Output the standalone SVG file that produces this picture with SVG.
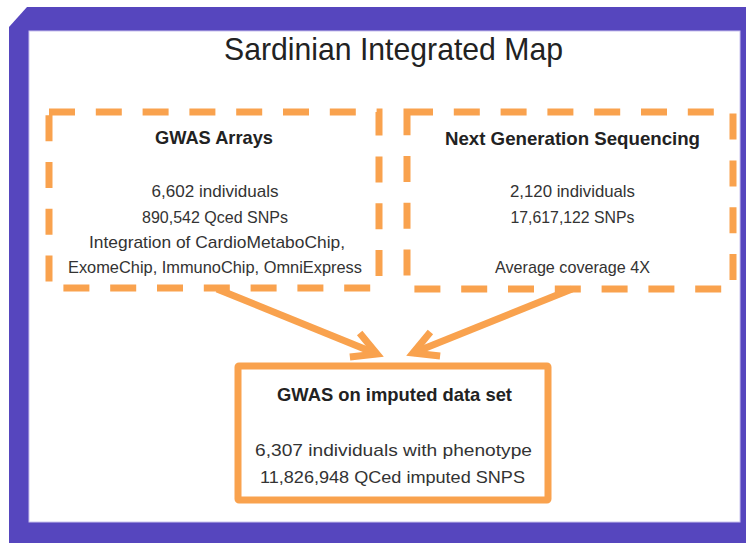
<svg xmlns="http://www.w3.org/2000/svg" width="746" height="543" viewBox="0 0 746 543">
  <style>
    .frame { fill: #5646BE; }
    .panel { fill: #FFFFFF; stroke: #C9C2EE; stroke-width: 1; }
    .dashbox { fill: none; stroke: #F9A24E; stroke-width: 7; stroke-dasharray: 26 20.8; stroke-linejoin: miter; }
    .solidbox { fill: #FFFFFF; stroke: #F9A24E; stroke-width: 7; }
    .conn { fill: none; stroke: #F9A24E; stroke-width: 7; }
    .title { font-family: "Liberation Sans", Arial, sans-serif; font-size: 32px; fill: #222222; text-anchor: middle; }
    .head { font-family: "Liberation Sans", Arial, sans-serif; font-size: 18.5px; font-weight: bold; fill: #222222; text-anchor: middle; }
    .body { font-family: "Liberation Sans", Arial, sans-serif; font-size: 17px; fill: #333333; text-anchor: middle; }
  </style>
  <defs>
    <marker id="vhead" markerUnits="userSpaceOnUse" orient="auto" refX="0" refY="0" markerWidth="40" markerHeight="40" viewBox="-30 -20 40 40" overflow="visible">
      <path d="M-24,-13 L0,0 L-24,13" fill="none" stroke="#F9A24E" stroke-width="7" stroke-linejoin="miter" stroke-linecap="butt"/>
    </marker>
  </defs>

  <rect x="0" y="0" width="746" height="543" fill="#FFFFFF"/>
  <path class="frame" d="M9,27 L27,7 L746,7 L746,543 L9,543 Z"/>
  <rect class="panel" x="29" y="31" width="711" height="491"/>

  <text class="title" x="393.5" y="60" textLength="339" lengthAdjust="spacingAndGlyphs">Sardinian Integrated Map</text>

  <g id="connectors">
    <path class="conn" d="M217,289 L377,354" marker-end="url(#vhead)"/>
    <path class="conn" d="M572,289 L413,353" marker-end="url(#vhead)"/>
  </g>

  <g id="gwas-arrays">
    <rect class="dashbox" x="49" y="112" width="330" height="176"/>
    <text class="head" x="214" y="144" textLength="118" lengthAdjust="spacingAndGlyphs">GWAS Arrays</text>
    <text class="body" x="215" y="196.5" textLength="127" lengthAdjust="spacingAndGlyphs">6,602 individuals</text>
    <text class="body" x="215" y="222.5" textLength="146" lengthAdjust="spacingAndGlyphs">890,542 Qced SNPs</text>
    <text class="body" x="217" y="248" textLength="256" lengthAdjust="spacingAndGlyphs">Integration of CardioMetaboChip,</text>
    <text class="body" x="215" y="272.5" textLength="294" lengthAdjust="spacingAndGlyphs">ExomeChip, ImmunoChip, OmniExpress</text>
  </g>

  <g id="ngs">
    <rect class="dashbox" x="407" y="112" width="326" height="177"/>
    <text class="head" x="572.5" y="145" textLength="255" lengthAdjust="spacingAndGlyphs">Next Generation Sequencing</text>
    <text class="body" x="572.5" y="196.5" textLength="125" lengthAdjust="spacingAndGlyphs">2,120 individuals</text>
    <text class="body" x="572.5" y="222.5" textLength="124" lengthAdjust="spacingAndGlyphs">17,617,122 SNPs</text>
    <text class="body" x="572.5" y="272.5" textLength="155" lengthAdjust="spacingAndGlyphs">Average coverage 4X</text>
  </g>

  <g id="gwas-imputed">
    <rect class="solidbox" x="238" y="366" width="310" height="134" rx="1"/>
    <text class="head" x="394.5" y="400.5" textLength="235" lengthAdjust="spacingAndGlyphs">GWAS on imputed data set</text>
    <text class="body" x="393.5" y="455.5" textLength="277" lengthAdjust="spacingAndGlyphs">6,307 individuals with phenotype</text>
    <text class="body" x="392.5" y="483" textLength="265" lengthAdjust="spacingAndGlyphs">11,826,948 QCed imputed SNPS</text>
  </g>
</svg>
